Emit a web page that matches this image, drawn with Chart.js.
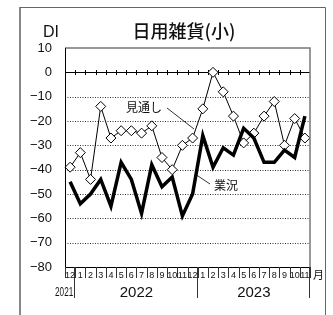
<!DOCTYPE html>
<html><head><meta charset="utf-8">
<script src="https://cdn.jsdelivr.net/npm/chart.js@4/dist/chart.umd.min.js"></script>
<style>html,body{margin:0;padding:0;background:#fff;}canvas{display:block;}</style>
</head><body>
<canvas id="c" width="333" height="315"></canvas>
<script>
const months = ['12','1','2','3','4','5','6','7','8','9','10','11','12','1','2','3','4','5','6','7','8','9','10','11'];
const outlook = [-39,-33,-44,-14,-27,-24,-24,-25,-22,-35,-40,-30,-27,-15,0,-8,-18,-29,-25,-18,-12,-30,-19,-27];
const business = [-45,-54,-50,-44,-55,-37,-44,-58,-38,-47,-43,-59,-50,-26,-39,-31,-34,-23,-27,-37,-37,-32,-35,-18];
const yearLabels = ['2021','2022','2023'];
const yearFirst = [0,1,13];
const yearLast = [0,12,23];
const seriesNames = ['見通し','業況'];
const title = '日用雑貨(小)';
const yMin = -80, yMax = 10, yStep = 10;

const JP = '"Noto Sans CJK JP", sans-serif';
const LAT = '"Liberation Sans", Arial, sans-serif';

const deco = {
  id: 'deco',
  beforeDraw(chart) {
    const ctx = chart.ctx;
    ctx.save();
    ctx.fillStyle = '#fff';
    ctx.fillRect(0, 0, chart.width, chart.height);
    ctx.restore();
  },
  beforeDatasetsDraw(chart) {
    const ctx = chart.ctx, x = chart.scales.x, y = chart.scales.y, a = chart.chartArea;
    ctx.save();
    // dotted grid lines from the y scale ticks
    ctx.strokeStyle = '#333';
    ctx.lineWidth = 1;
    ctx.setLineDash([1, 1.5]);
    ctx.beginPath();
    y.ticks.forEach(t => {
      if (t.value === 0 || t.value === yMax || t.value === yMin) return;
      const py = Math.round(y.getPixelForValue(t.value)) + 0.5;
      ctx.moveTo(a.left, py); ctx.lineTo(a.right, py);
    });
    ctx.stroke();
    ctx.setLineDash([]);
    // zero line with ticks
    const y0 = Math.round(y.getPixelForValue(0)) + 0.5;
    ctx.strokeStyle = '#000';
    ctx.lineWidth = 1;
    ctx.beginPath();
    ctx.moveTo(a.left, y0); ctx.lineTo(a.right, y0);
    const n = months.length;
    for (let i = 0; i < n - 1; i++) {
      const bx = Math.round((x.getPixelForValue(i) + x.getPixelForValue(i + 1)) / 2) + 0.5;
      ctx.moveTo(bx, y0 - 2.5); ctx.lineTo(bx, y0 + 2.5);
    }
    ctx.stroke();
    ctx.restore();
  },
  afterDraw(chart) {
    const ctx = chart.ctx, x = chart.scales.x, y = chart.scales.y, a = chart.chartArea;
    const n = months.length;
    const half = (x.getPixelForValue(1) - x.getPixelForValue(0)) / 2;
    const bnd = i => x.getPixelForValue(i) - half;
    ctx.save();
    // plot frame
    ctx.strokeStyle = '#777';
    ctx.lineWidth = 1.5;
    ctx.beginPath();
    ctx.moveTo(a.left, a.top); ctx.lineTo(a.right, a.top); ctx.lineTo(a.right, a.bottom);
    ctx.stroke();
    ctx.strokeStyle = '#000';
    ctx.lineWidth = 1;
    ctx.beginPath();
    ctx.moveTo(a.left + 0.5, a.top); ctx.lineTo(a.left + 0.5, a.bottom);
    ctx.moveTo(a.left, a.bottom + 0.5); ctx.lineTo(a.right, a.bottom + 0.5);
    ctx.stroke();
    // month dividers
    ctx.strokeStyle = '#333';
    ctx.beginPath();
    for (let i = 0; i <= n; i++) {
      const bx = Math.round(i === n ? a.right : bnd(i)) + 0.5;
      ctx.moveTo(bx, a.bottom); ctx.lineTo(bx, a.bottom + 11);
    }
    ctx.stroke();
    // year dividers
    ctx.beginPath();
    for (let k = 0; k < yearLabels.length; k++) {
      const endX = Math.round(yearLast[k] === n - 1 ? a.right : bnd(yearLast[k] + 1)) - 0.5;
      ctx.moveTo(endX, a.bottom); ctx.lineTo(endX, a.bottom + 31);
    }
    ctx.stroke();
    // year labels
    ctx.fillStyle = '#111';
    ctx.textBaseline = 'middle';
    for (let k = 0; k < yearLabels.length; k++) {
      const l = bnd(yearFirst[k]);
      const r = yearLast[k] === n - 1 ? a.right : bnd(yearLast[k] + 1);
      if (yearFirst[k] === yearLast[k]) {
        ctx.font = '12px ' + LAT;
        ctx.save();
        ctx.translate(r - 2, a.bottom + 26);
        ctx.scale(0.68, 1);
        ctx.textAlign = 'right';
        ctx.fillText(yearLabels[k], 0, 0);
        ctx.restore();
      } else {
        ctx.font = '15px ' + LAT;
        ctx.textAlign = 'center';
        ctx.fillText(yearLabels[k], (l + r) / 2, a.bottom + 26);
      }
    }
    // 月
    ctx.font = '11px ' + JP;
    ctx.textAlign = 'left';
    ctx.fillText('月', a.right + 3, a.bottom + 8);
    // title & DI
    ctx.font = '500 18px ' + JP;
    ctx.textAlign = 'center';
    ctx.fillText(title, 184, 31);
    ctx.font = '16px ' + LAT;
    ctx.fillText('DI', 51, 33);
    // annotations
    ctx.font = '12px ' + JP;
    ctx.textAlign = 'left';
    ctx.fillText(seriesNames[0], 126, 107);
    ctx.fillText(seriesNames[1], 214, 185);
    ctx.strokeStyle = '#000';
    ctx.lineWidth = 0.8;
    ctx.beginPath();
    ctx.moveTo(167, 108); ctx.lineTo(194, 129);
    ctx.moveTo(195, 174); ctx.lineTo(210, 184);
    ctx.stroke();
    // outer frame
    ctx.strokeStyle = '#888';
    ctx.lineWidth = 2;
    ctx.beginPath();
    ctx.moveTo(20, 315); ctx.lineTo(20, 7);
    ctx.stroke();
    ctx.lineWidth = 1;
    ctx.strokeStyle = '#666';
    ctx.beginPath();
    ctx.moveTo(20, 7.5); ctx.lineTo(325.5, 7.5); ctx.lineTo(325.5, 315);
    ctx.stroke();
    ctx.restore();
  }
};

new Chart(document.getElementById('c'), {
  type: 'line',
  data: {
    labels: months,
    datasets: [
      {
        label: seriesNames[1], data: business,
        borderColor: '#000', borderWidth: 3.5, pointRadius: 0, tension: 0,
        borderJoinStyle: 'miter', fill: false
      },
      {
        label: seriesNames[0], data: outlook,
        borderColor: '#000', borderWidth: 1, tension: 0, fill: false,
        pointStyle: 'rectRot', pointRadius: 5, pointBackgroundColor: '#fff',
        pointBorderColor: '#000', pointBorderWidth: 1
      }
    ]
  },
  options: {
    responsive: false,
    animation: false,
    devicePixelRatio: 1,
    layout: { padding: { left: 0, right: 23, top: 48, bottom: 0 } },
    plugins: { legend: { display: false }, tooltip: { enabled: false }, title: { display: false } },
    scales: {
      x: {
        type: 'category',
        offset: true,
        grid: { display: false, drawTicks: false },
        border: { display: false },
        ticks: {
          autoSkip: false, maxRotation: 0, minRotation: 0, padding: 3,
          color: '#111', font: { family: LAT, size: 9 }
        },
        afterFit(s) { s.height = 48; }
      },
      y: {
        min: yMin, max: yMax,
        grid: { display: false, drawTicks: false },
        border: { display: false },
        ticks: {
          stepSize: yStep, padding: 13, color: '#111',
          font: { family: LAT, size: 13 },
          callback: v => v < 0 ? '\u2212' + Math.abs(v) : String(v)
        },
        afterFit(s) { s.width = 65; }
      }
    }
  },
  plugins: [deco]
});
</script>
</body></html>
